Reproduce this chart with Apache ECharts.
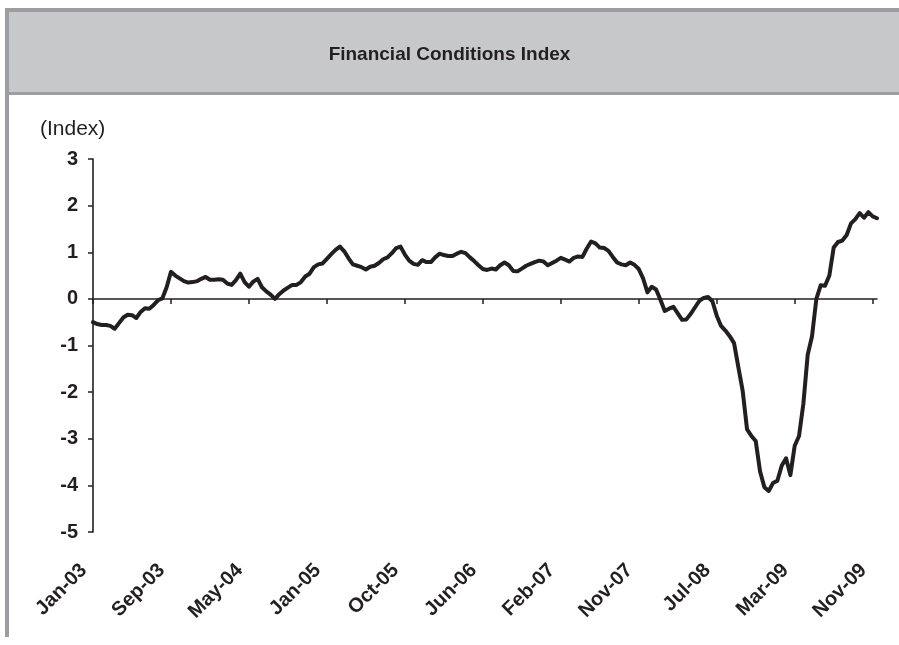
<!DOCTYPE html>
<html>
<head>
<meta charset="utf-8">
<script src="https://cdn.jsdelivr.net/npm/echarts@6/dist/echarts.min.js"></script>
<style>
html,body{margin:0;padding:0;background:#fff;}
#chart{width:899px;height:645px;}
</style>
</head>
<body>
<div id="chart"></div>
<script>
// Bi-weekly observations starting 3 Jan 2003
var startDate = Date.UTC(2003, 0, 3);
var stepDays = 14;
var monthNames = ['Jan','Feb','Mar','Apr','May','Jun','Jul','Aug','Sep','Oct','Nov','Dec'];
var titleText = 'Financial Conditions Index';
var unitText = '(Index)';
var yTicks = {min: -5, max: 3, interval: 1};
var labelEvery = 18; // one label every 36 weeks

var fciValues = [
 -0.50,-0.54,-0.56,-0.56,-0.58,-0.64,-0.52,-0.40,-0.34,-0.35,
 -0.41,-0.28,-0.20,-0.21,-0.13,-0.03,0.01,0.25,0.58,0.50,
 0.44,0.38,0.35,0.36,0.38,0.43,0.47,0.41,0.41,0.42,
 0.41,0.33,0.30,0.40,0.54,0.36,0.26,0.37,0.43,0.25,
 0.16,0.09,0.00,0.10,0.18,0.24,0.30,0.30,0.36,0.48,
 0.54,0.68,0.74,0.76,0.86,0.96,1.05,1.12,1.02,0.87,
 0.74,0.71,0.68,0.63,0.69,0.71,0.77,0.85,0.89,0.98,
 1.09,1.12,0.95,0.82,0.75,0.73,0.83,0.79,0.79,0.89,
 0.97,0.94,0.92,0.92,0.97,1.01,0.98,0.89,0.81,0.72,
 0.64,0.62,0.65,0.63,0.72,0.78,0.72,0.60,0.59,0.65,
 0.71,0.75,0.79,0.82,0.80,0.72,0.77,0.82,0.88,0.84,
 0.80,0.88,0.91,0.90,1.08,1.23,1.19,1.10,1.09,1.03,
 0.90,0.78,0.74,0.72,0.78,0.73,0.64,0.44,0.14,0.26,
 0.20,-0.02,-0.26,-0.21,-0.17,-0.31,-0.45,-0.44,-0.32,-0.18,
 -0.04,0.02,0.04,-0.05,-0.36,-0.58,-0.68,-0.80,-0.95,-1.47,
 -1.98,-2.80,-2.94,-3.05,-3.70,-4.04,-4.12,-3.95,-3.90,-3.58,
 -3.42,-3.78,-3.15,-2.94,-2.25,-1.20,-0.80,0.00,0.29,0.28,
 0.50,1.10,1.22,1.25,1.37,1.62,1.71,1.84,1.74,1.86,
 1.77,1.73
];

var categories = [];
for (var i = 0; i < fciValues.length; i++) {
  var d = new Date(startDate + i * stepDays * 86400000);
  var yy = String(d.getUTCFullYear() % 100);
  if (yy.length < 2) yy = '0' + yy;
  categories.push(monthNames[d.getUTCMonth()] + '-' + yy);
}

var ink = '#231f20';
var frameGray = '#9c9da0';
var boxGray = '#c7c8ca';
var font = 'Liberation Sans, Arial, sans-serif';

var chart = echarts.init(document.getElementById('chart'), null, {renderer: 'canvas'});
chart.setOption({
  animation: false,
  backgroundColor: '#ffffff',
  graphic: [
    {type: 'rect', z: -10, shape: {x: 5, y: 8, width: 894, height: 87}, style: {fill: frameGray}},
    {type: 'rect', z: -9, shape: {x: 9, y: 12, width: 890, height: 80}, style: {fill: boxGray}},
    {type: 'rect', z: -10, shape: {x: 5, y: 95, width: 4, height: 542}, style: {fill: frameGray}}
  ],
  title: [
    {text: titleText, left: 'center', top: 40,
     textStyle: {fontFamily: font, fontWeight: 'bold', fontSize: 19, color: ink}},
    {text: unitText, left: 35, top: 114,
     textStyle: {fontFamily: font, fontWeight: 'normal', fontSize: 21, color: ink}}
  ],
  grid: {left: 93, right: 22, top: 159, bottom: 113},
  xAxis: [
    {
      type: 'category', data: categories, boundaryGap: false, position: 'bottom',
      axisLine: {show: true, onZero: true, lineStyle: {color: ink, width: 1.6}},
      axisTick: {show: true, interval: labelEvery - 1, length: 5, lineStyle: {color: ink, width: 1.5}},
      axisLabel: {show: false},
      splitLine: {show: false}
    },
    {
      type: 'category', data: categories, boundaryGap: false, position: 'bottom',
      axisLine: {show: false, onZero: false},
      axisTick: {show: false},
      splitLine: {show: false},
      axisLabel: {show: true, interval: labelEvery - 1, rotate: 45, margin: 26, padding: [0, 13, 0, 0],
        fontFamily: font, fontWeight: 'bold', fontSize: 20, color: ink}
    }
  ],
  yAxis: {
    type: 'value', min: yTicks.min, max: yTicks.max, interval: yTicks.interval,
    axisLine: {show: true, lineStyle: {color: ink, width: 1.6}},
    axisTick: {show: true, length: 5, lineStyle: {color: ink, width: 1.5}},
    splitLine: {show: false},
    axisLabel: {margin: 15, fontFamily: font, fontWeight: 'bold', fontSize: 20, color: ink}
  },
  series: [{
    type: 'line', xAxisIndex: 0, data: fciValues, showSymbol: false, smooth: false,
    lineStyle: {color: ink, width: 4, join: 'round', cap: 'round'},
    z: 5
  }]
});
</script>
</body>
</html>
